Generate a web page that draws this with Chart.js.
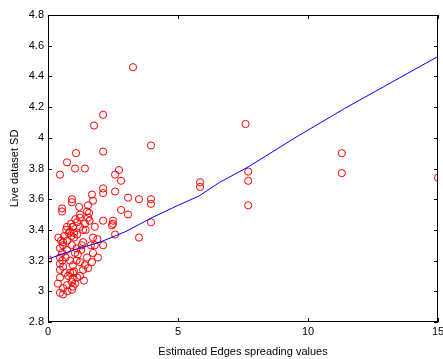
<!DOCTYPE html>
<html>
<head>
<meta charset="utf-8">
<script src="https://cdn.jsdelivr.net/npm/chart.js@4/dist/chart.umd.min.js"></script>
<style>
  html, body { margin: 0; padding: 0; background: #fff; }
  #wrap { width: 443px; height: 359px; }
</style>
</head>
<body>
<div id="wrap"><canvas id="scatterChart"></canvas></div>
<script>
// estimated edges spreading (x) vs live dataset SD (y)
let edgeX = [
	3.27, 2.12, 1.77, 3.96, 7.6, 11.3, 11.3, 15, 7.7, 7.7, 7.7, 5.85, 5.85,
	2.12, 2.73, 2.58, 2.81, 2.12, 2.12, 2.58, 3.08, 3.5, 3.96, 3.96,
	2.81, 3.08, 2.12, 2.5, 2.5, 3.96, 2.58, 3.5, 2.12,
	0.46, 0.73, 1.08, 1.04, 1.42, 1.69, 0.92, 0.92, 1.73, 1.54, 0.54, 0.54,
	1.5, 1.58, 1.23, 1.23, 1.54, 1.12, 1.42, 0.96, 0.73, 1.23, 1.8,
	2.46, 1.73, 1.35, 1.8, 1.5, 1.73, 1.92, 1.69, 1.23, 1.42, 0, 0.46, 0.54,
	0.73, 0.46, 0.58, 0.46, 0.65, 0.46, 0.77, 0.96, 1.12, 0.92, 0.73, 0.38,
	0.96, 0.58, 0.92, 0.58, 0.46, 1.23, 0.96, 0.85, 1.04, 0.92, 0.73, 0.58,
	0.46, 1.12, 0.85, 1.35, 0.96, 0.58, 1.54, 1.35, 1.04, 1.3, 1.0, 1.1,
	0.9, 1.15, 0.8, 1.05, 1.6, 1.9, 0.4, 0.5, 0.62, 0.7, 0.88, 1.0, 1.2,
	1.45, 1.65, 0.55, 0.75, 1.0, 1.1, 0.95, 0.68, 0.85, 1.28, 1.38
];
let liveSD = [
	4.46, 4.15, 4.08, 3.95, 4.09, 3.9, 3.77, 3.74, 3.78, 3.72, 3.56, 3.71, 3.68,
	3.91, 3.79, 3.76, 3.72, 3.67, 3.64, 3.65, 3.61, 3.6, 3.6, 3.57,
	3.53, 3.5, 3.46, 3.46, 3.44, 3.45, 3.37, 3.35, 3.3,
	3.76, 3.84, 3.9, 3.8, 3.8, 3.63, 3.6, 3.58, 3.59, 3.56, 3.54, 3.52,
	3.52, 3.51, 3.5, 3.48, 3.48, 3.45, 3.44, 3.42, 3.42, 3.42, 3.42,
	3.43, 3.35, 3.32, 3.3, 3.22, 3.25, 3.22, 3.19, 3.19, 3.17, 3.21, 3.22, 3.25,
	3.27, 3.18, 3.16, 3.14, 3.12, 3.09, 3.1, 3.12, 3.09, 3.06, 3.04, 3.05,
	3.03, 3.02, 3.01, 2.98, 2.99, 3.1, 3.17, 3.2, 3.25, 3.3, 3.33, 3.3,
	3.28, 3.37, 3.39, 3.4, 3.42, 3.32, 3.15, 3.14, 3.05, 3.3, 3.35, 3.28,
	3.36, 3.24, 3.38, 3.47, 3.46, 3.34, 3.35, 3.33, 3.36, 3.4, 3.44, 3.38, 3.55,
	3.4, 3.3, 3.2, 3.0, 3.13, 3.2, 3.08, 3.22, 3.12, 3.27, 3.07
];

// fitted curve
let fitX = [0, 1, 2, 3, 4, 5, 5.8, 6.6, 7.7, 9.5, 11.4, 15];
let fitY = [3.21, 3.27, 3.32, 3.39, 3.48, 3.56, 3.62, 3.71, 3.81, 4.0, 4.19, 4.53];

let xTicks = [0, 5, 10, 15];
let yTicks = [2.8, 3, 3.2, 3.4, 3.6, 3.8, 4, 4.2, 4.4, 4.6, 4.8];

let tickFont = { family: 'Liberation Sans', size: 11 };

// matlab style box with inward ticks on all four sides
let boxPlugin = {
	id: 'boxPlugin',
	afterDraw(chart) {
		let ctx = chart.ctx;
		let a = chart.chartArea;
		let xs = chart.scales.x;
		let ys = chart.scales.y;
		ctx.save();
		ctx.strokeStyle = '#000';
		ctx.lineWidth = 1;
		ctx.beginPath();
		ctx.rect(Math.round(a.left) + 0.5, Math.round(a.top) + 0.5,
			Math.round(a.right - a.left) - 1, Math.round(a.bottom - a.top) - 1);
		xTicks.forEach(v => {
			let px = Math.round(xs.getPixelForValue(v)) + 0.5;
			ctx.moveTo(px, a.bottom);
			ctx.lineTo(px, a.bottom - 4);
			ctx.moveTo(px, a.top);
			ctx.lineTo(px, a.top + 4);
		});
		yTicks.forEach(v => {
			let py = Math.round(ys.getPixelForValue(v)) + 0.5;
			ctx.moveTo(a.left, py);
			ctx.lineTo(a.left + 4, py);
			ctx.moveTo(a.right, py);
			ctx.lineTo(a.right - 4, py);
		});
		ctx.stroke();
		ctx.restore();
	}
};

let ctx = document.getElementById('scatterChart').getContext('2d');

let scatterChart = new Chart(ctx, {
	type: 'scatter',
	data: {
		datasets: [{
			label: 'fit',
			data: fitX.map((x, i) => ({ x: x, y: fitY[i] })),
			showLine: true,
			borderColor: 'rgb(0, 0, 255)',
			borderWidth: 1,
			pointRadius: 0,
			tension: 0,
			order: 1
		}, {
			label: 'samples',
			data: edgeX.map((x, i) => ({ x: x, y: liveSD[i] })),
			pointStyle: 'circle',
			pointRadius: 3.6,
			pointBorderWidth: 1,
			borderColor: 'rgb(255, 0, 0)',
			backgroundColor: 'rgba(0, 0, 0, 0)',
			order: 2
		}]
	},
	options: {
		responsive: true,
		maintainAspectRatio: false,
		animation: false,
		layout: { padding: { left: 0, right: 5, top: 15, bottom: 0 } },
		plugins: {
			legend: { display: false },
			tooltip: { enabled: false }
		},
		scales: {
			x: {
				type: 'linear',
				min: 0,
				max: 15,
				afterFit: s => { s.height = 37; s.paddingRight = 0; s.paddingLeft = 0; },
				afterBuildTicks: s => { s.ticks = xTicks.map(v => ({ value: v })); },
				grid: { display: false, drawTicks: false },
				border: { display: false },
				ticks: { font: tickFont, color: '#000', padding: 3, maxRotation: 0 },
				title: {
					display: true,
					text: 'Estimated Edges spreading values',
					font: tickFont,
					color: '#000',
					padding: { top: 1, bottom: 0 }
				}
			},
			y: {
				type: 'linear',
				min: 2.8,
				max: 4.8,
				afterFit: s => { s.width = 48; s.paddingTop = 0; s.paddingBottom = 0; },
				afterBuildTicks: s => { s.ticks = yTicks.map(v => ({ value: v })); },
				grid: { display: false, drawTicks: false },
				border: { display: false },
				ticks: {
					font: tickFont,
					color: '#000',
					padding: 4,
					callback: v => String(Number(v.toFixed(1)))
				},
				title: {
					display: true,
					text: 'Live dataset SD',
					font: tickFont,
					color: '#000',
					padding: { top: 8, bottom: 0 }
				}
			}
		}
	},
	plugins: [boxPlugin]
});
</script>
</body>
</html>
